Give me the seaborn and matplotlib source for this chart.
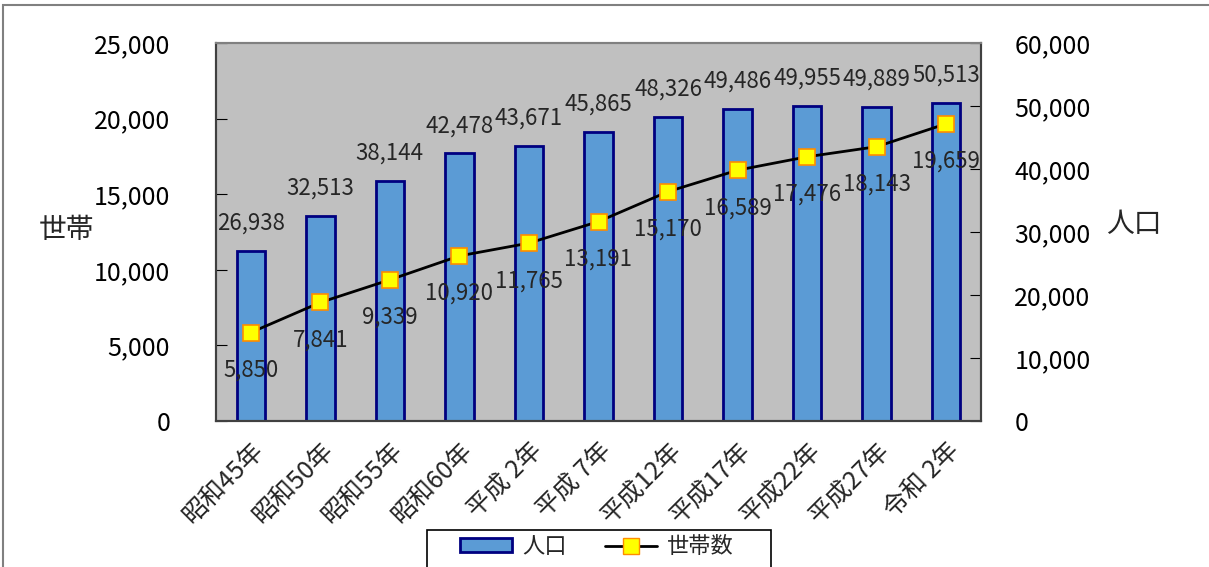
import numpy as np
import pandas as pd
import seaborn as sns
import matplotlib.pyplot as plt
from matplotlib.patches import Rectangle, Patch
from matplotlib.lines import Line2D
from matplotlib.ticker import FuncFormatter, FixedLocator

# データ
years = ["昭和45年", "昭和50年", "昭和55年", "昭和60年", "平成 2年", "平成 7年",
         "平成12年", "平成17年", "平成22年", "平成27年", "令和 2年"]
population = [26938, 32513, 38144, 42478, 43671, 45865, 48326, 49486, 49955, 49889, 50513]
households = [5850, 7841, 9339, 10920, 11765, 13191, 15170, 16589, 17476, 18143, 19659]

df = pd.DataFrame({"年": years, "人口": population, "世帯数": households})

sns.set_style("white")
plt.rcParams["font.family"] = ["Noto Sans CJK JP", "DejaVu Sans"]

fig = plt.figure(figsize=(12.09, 5.67), dpi=100)
ax = fig.add_axes([216 / 1209, 1 - 421 / 567, (981 - 216) / 1209, (421 - 43) / 567])
ax2 = ax.twinx()

# 棒グラフ（人口、右軸）
sns.barplot(data=df, x="年", y="人口", ax=ax2, color="#5B9BD5", saturation=1,
            width=0.41, edgecolor="#000080", linewidth=2)
ax2.set_ylim(0, 60000)
ax2.patch.set_visible(True)
ax2.set_facecolor("#C0C0C0")

# 折れ線（世帯数、左軸）
sns.pointplot(data=df, x="年", y="世帯数", ax=ax, color="black", markers="s",
              linewidth=2, markersize=11, markerfacecolor="#FFFF00",
              markeredgecolor="#FF8C00", markeredgewidth=1.2)
ax.set_ylim(0, 25000)
ax.set_zorder(ax2.get_zorder() + 1)
ax.patch.set_visible(False)
ax.set_xlim(-0.5, len(years) - 0.5)

# ラベル
for i, v in enumerate(population):
    ax2.annotate(f"{v:,}", (i, v), xytext=(0, 20), textcoords="offset points",
                 ha="center", va="center", fontsize=16)
for i, v in enumerate(households):
    ax.annotate(f"{v:,}", (i, v), xytext=(0, -27), textcoords="offset points",
                ha="center", va="center", fontsize=16)

fmt = FuncFormatter(lambda v, p: f"{int(v):,}")
ax.set_yticks(np.arange(0, 25001, 5000))
ax.yaxis.set_major_formatter(fmt)
ax2.set_yticks(np.arange(0, 60001, 10000))
ax2.yaxis.set_major_formatter(fmt)
ax.tick_params(axis="y", direction="in", length=8, pad=33, labelsize=18, colors="black")
ax2.tick_params(axis="y", direction="in", length=8, pad=24, labelsize=18, colors="black")

# x軸
ax.set_xticks(range(len(years)))
ax.set_xticklabels(years, rotation=45, ha="right", rotation_mode="anchor", fontsize=18)
ax.tick_params(axis="x", which="major", length=0, pad=12)
ax.xaxis.set_minor_locator(FixedLocator(np.arange(0.5, len(years) - 1, 1)))
ax.tick_params(axis="x", which="minor", direction="in", length=6, color="#404040")
ax2.tick_params(axis="x", length=0)
ax.set_xlabel("")
ax2.set_xlabel("")

ax.set_ylabel("")
ax2.set_ylabel("")
fig.text(67 / 1209, 1 - 230 / 567, "世帯", fontsize=20, ha="center", va="center")
fig.text(1134 / 1209, 1 - 224 / 567, "人口", fontsize=20, ha="center", va="center")

for a in (ax, ax2):
    for s in a.spines.values():
        s.set_color("#404040")
        s.set_linewidth(1.5)
    a.spines["top"].set_color("#808080")

# 凡例（枠は別に描く）
handles = [Patch(facecolor="#5B9BD5", edgecolor="#000080", linewidth=2),
           Line2D([0], [0], color="black", linewidth=2, marker="s", markersize=11,
                  markerfacecolor="#FFFF00", markeredgecolor="#FF8C00")]
leg = fig.legend(handles, ["人口", "世帯数"], loc="upper left",
                 bbox_to_anchor=(460 / 1209, 1 - 535 / 567), ncol=2, fontsize=16,
                 frameon=False, handlelength=2.35, handleheight=0.6,
                 handletextpad=0.45, columnspacing=1.7, borderpad=0, borderaxespad=0)
fig.patches.append(Rectangle((427 / 1209, -0.05), 344 / 1209, 0.05 + 1 - 530 / 567,
                             transform=fig.transFigure, fill=True, facecolor="white",
                             edgecolor="black", linewidth=1.2, zorder=0))

# 外枠
fig.patches.append(Rectangle((3 / 1209, -0.05), 1.0, 1.05 - 5 / 567,
                             transform=fig.transFigure, fill=False,
                             edgecolor="#808080", linewidth=1.5))

fig.savefig("out.png", dpi=100)
